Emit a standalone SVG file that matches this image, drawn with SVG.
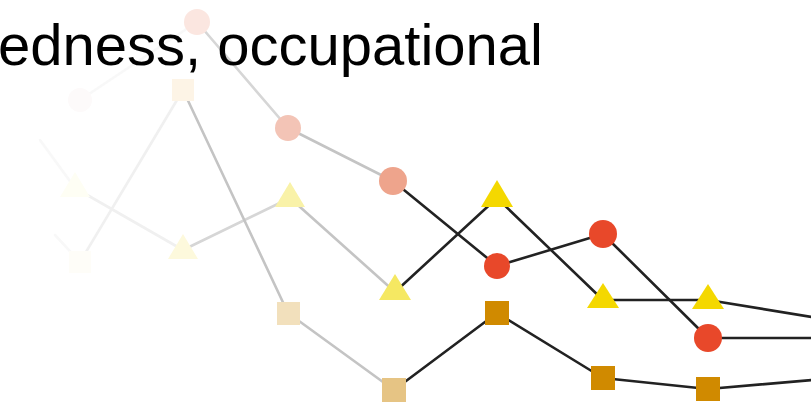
<svg xmlns="http://www.w3.org/2000/svg" width="811" height="405" viewBox="0 0 811 405">
<style>
.ln{fill:none;stroke-width:2.6;stroke-linecap:round}
.k{stroke:#222}
.g1{stroke:#c4c4c4}
.g2{stroke:#d6d6d6}
.g3{stroke:#f0f0f0}
.g4{stroke:#f8f8f8}
.t{font-family:"Liberation Sans",Arial,sans-serif;font-size:58px;fill:#000}
</style>
<rect width="811" height="405" fill="#fff"/>
<g id="connectors">
<!-- circle series -->
<line class="ln g4" x1="80" y1="100" x2="197" y2="22"/>
<line class="ln g2" x1="197" y1="22" x2="288" y2="128"/>
<line class="ln g1" x1="288" y1="128" x2="393" y2="181"/>
<line class="ln k" x1="393" y1="181" x2="497" y2="266"/>
<line class="ln k" x1="497" y1="266" x2="603" y2="234"/>
<line class="ln k" x1="603" y1="234" x2="708" y2="338"/>
<line class="ln k" x1="708" y1="338" x2="812" y2="338"/>
<!-- triangle series -->
<line class="ln g4" x1="40" y1="140" x2="75" y2="188"/>
<line class="ln g3" x1="75" y1="188" x2="183" y2="250"/>
<line class="ln g2" x1="183" y1="250" x2="290" y2="198"/>
<line class="ln g1" x1="290" y1="198" x2="395" y2="292"/>
<line class="ln k" x1="395" y1="292" x2="497" y2="198"/>
<line class="ln k" x1="497" y1="198" x2="603" y2="300"/>
<line class="ln k" x1="603" y1="300" x2="708" y2="300"/>
<line class="ln k" x1="708" y1="300" x2="812" y2="317"/>
<!-- square series -->
<line class="ln g4" x1="55" y1="235" x2="80" y2="262"/>
<line class="ln g3" x1="80" y1="262" x2="183" y2="90"/>
<line class="ln g1" x1="183" y1="90" x2="288" y2="313"/>
<line class="ln g1" x1="288" y1="313" x2="394" y2="390"/>
<line class="ln k" x1="394" y1="390" x2="497" y2="313"/>
<line class="ln k" x1="497" y1="313" x2="603" y2="378"/>
<line class="ln k" x1="603" y1="378" x2="708" y2="389"/>
<line class="ln k" x1="708" y1="389" x2="812" y2="380"/>
</g>
<g id="c0"><circle cx="80" cy="100" r="12" fill="#fdfafa"/></g>
<g id="c1"><circle cx="197" cy="22" r="13" fill="#fbe6e0"/></g>
<g id="c2"><circle cx="288" cy="128" r="13" fill="#f3c4b6"/></g>
<g id="c3"><circle cx="393" cy="181" r="14" fill="#eea48c"/></g>
<g id="c4"><circle cx="497" cy="266" r="13" fill="#e8482a"/></g>
<g id="c5"><circle cx="603" cy="234" r="14" fill="#e8482a"/></g>
<g id="c6"><circle cx="708" cy="338" r="14" fill="#e8482a"/></g>
<g id="t0"><polygon points="75,172 90,197 60,197" fill="#fefef4"/></g>
<g id="t1"><polygon points="183,234 198,259 168,259" fill="#fdf9dc"/></g>
<g id="t2"><polygon points="290,182 305,207 275,207" fill="#f9f2a8"/></g>
<g id="t3"><polygon points="395,274 411,300 379,300" fill="#f5e862"/></g>
<g id="t4"><polygon points="497,180 513,207 481,207" fill="#f4d800"/></g>
<g id="t5"><polygon points="603,283 619,308 587,308" fill="#f4d800"/></g>
<g id="t6"><polygon points="708,284 724,309 692,309" fill="#f4d800"/></g>
<g id="s0"><rect x="69" y="251" width="22" height="22" fill="#fefdf8"/></g>
<g id="s1"><rect x="172" y="79" width="22" height="22" fill="#fdf4e6"/></g>
<g id="s2"><rect x="277" y="302" width="23" height="23" fill="#f2e0bc"/></g>
<g id="s3"><rect x="382" y="378" width="24" height="24" fill="#e6c484"/></g>
<g id="s4"><rect x="485" y="301" width="24" height="24" fill="#d08a00"/></g>
<g id="s5"><rect x="591" y="366" width="24" height="24" fill="#d08a00"/></g>
<g id="s6"><rect x="696" y="377" width="24" height="24" fill="#d08a00"/></g>
<text class="t" x="-2" y="65">edness, occupational</text>
</svg>
